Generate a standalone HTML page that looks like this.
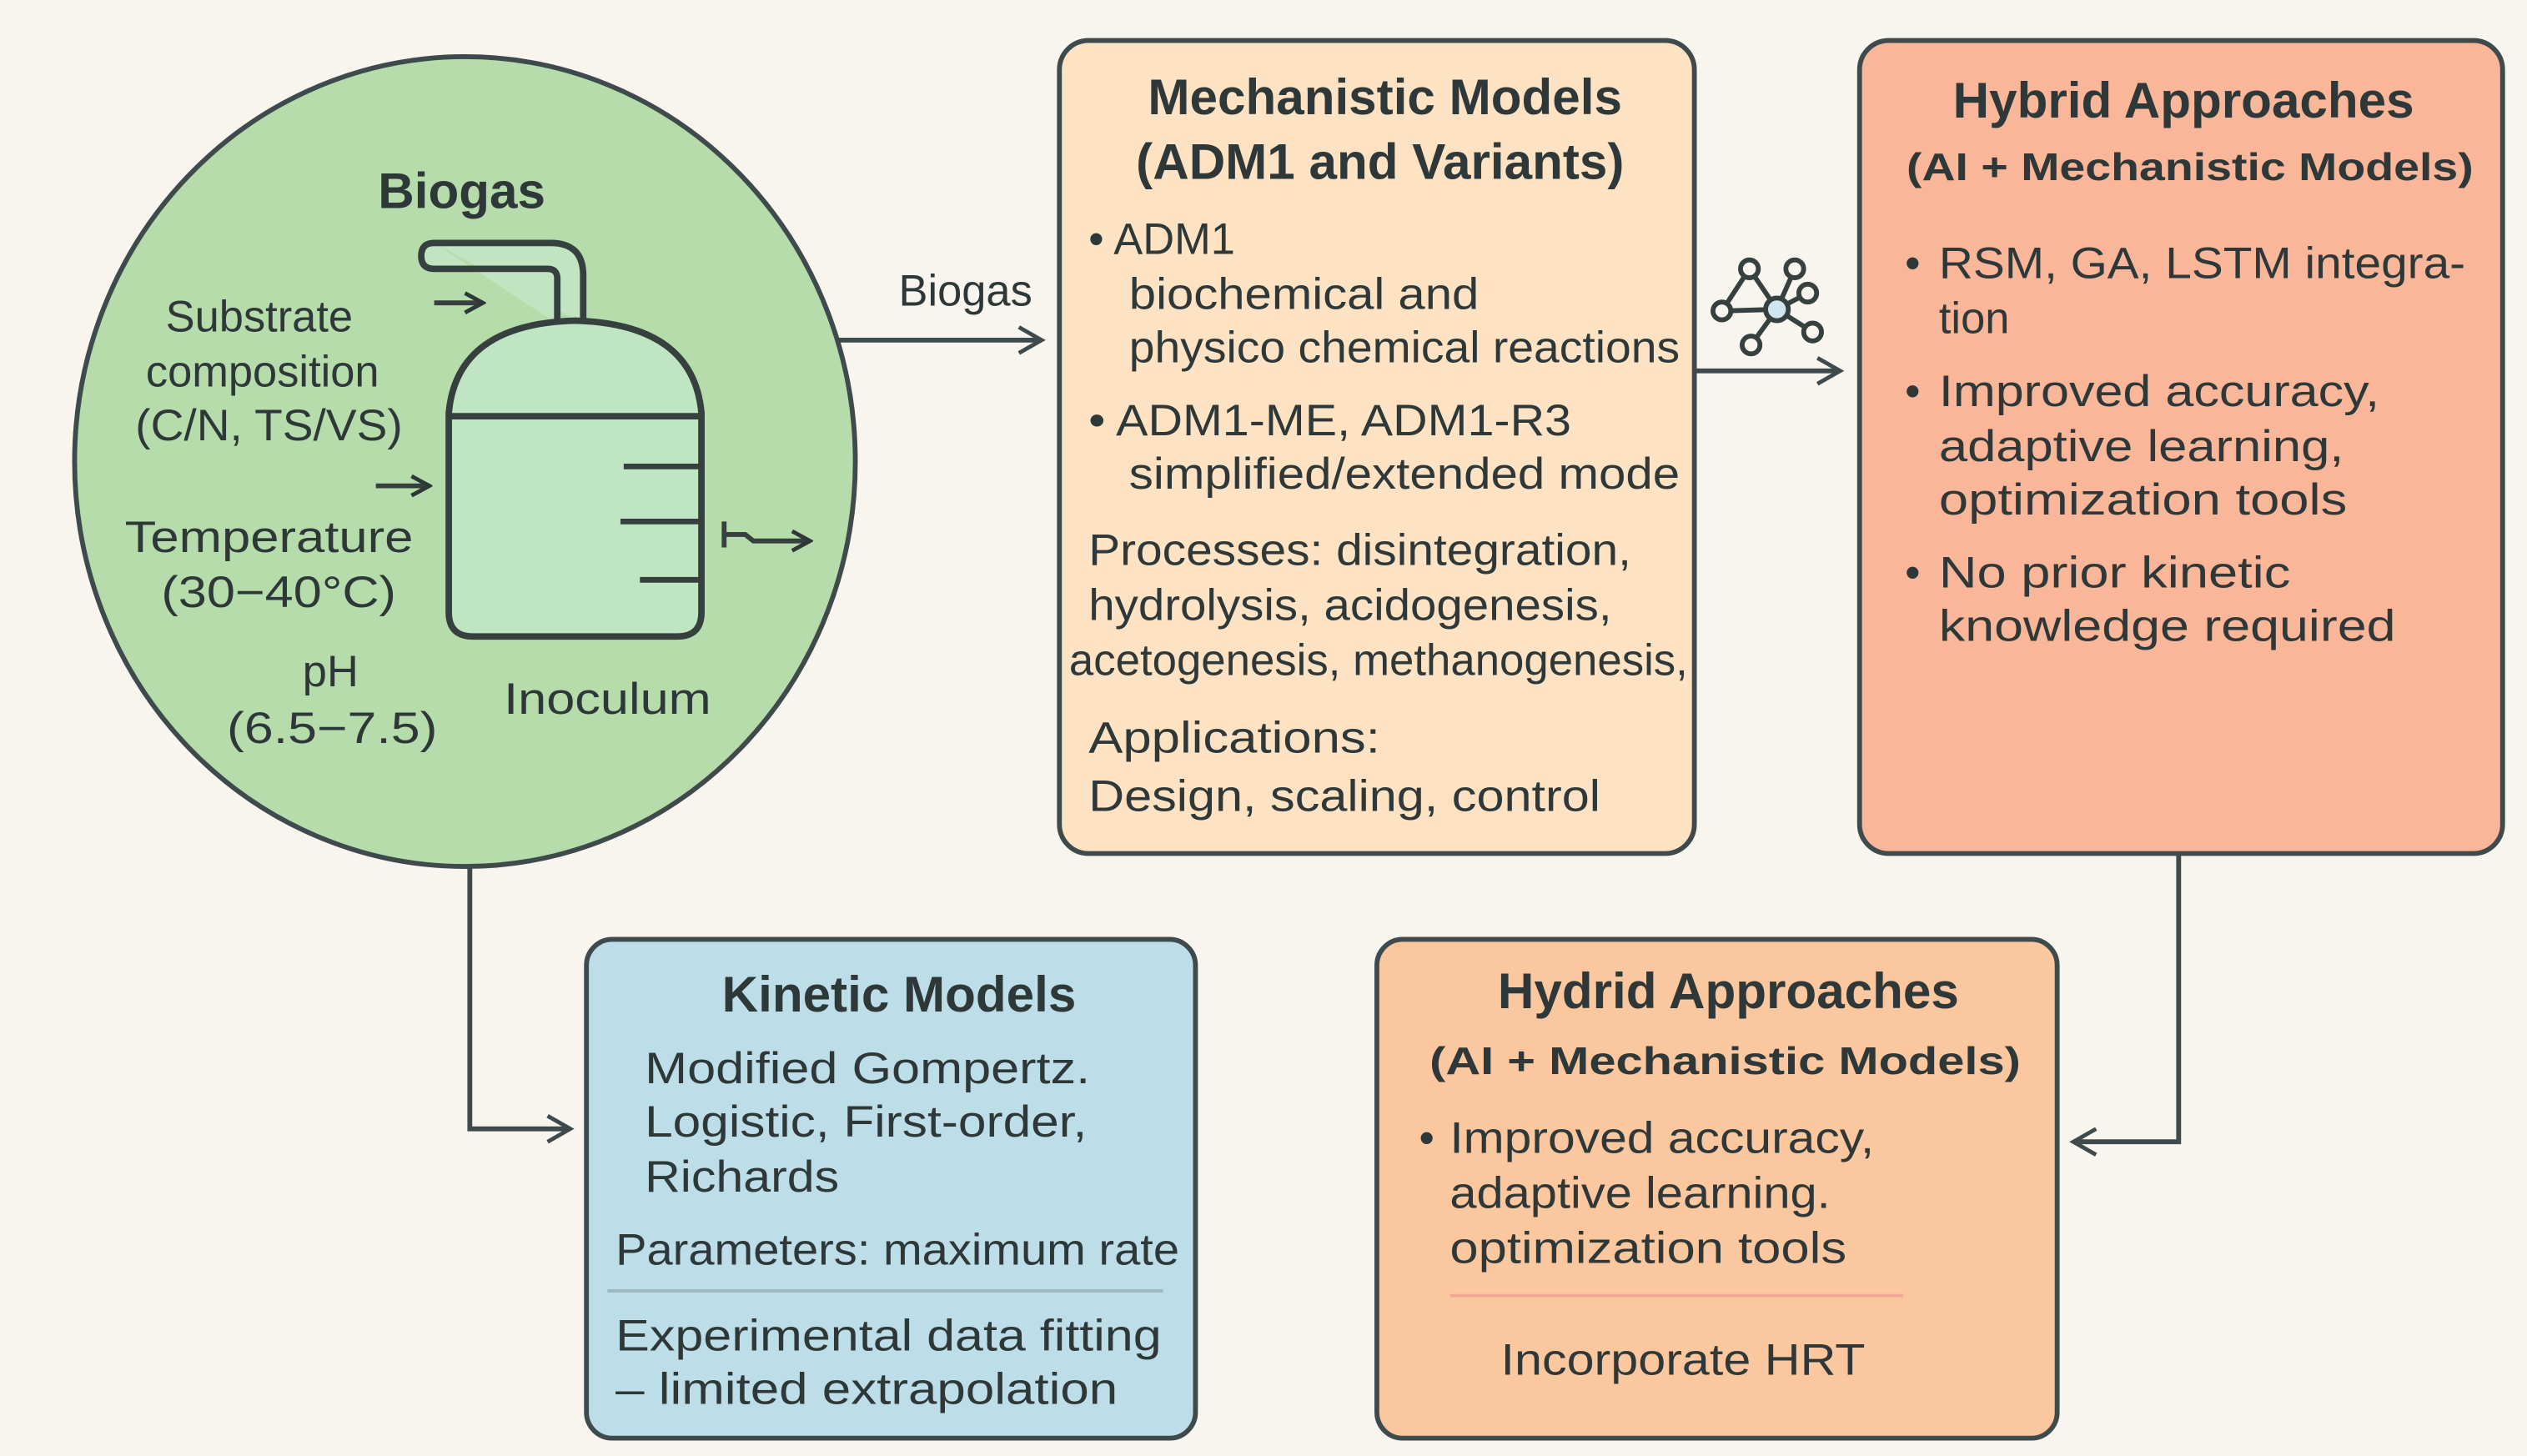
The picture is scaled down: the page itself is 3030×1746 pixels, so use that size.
<!DOCTYPE html>
<html><head><meta charset="utf-8"><style>
html,body{margin:0;padding:0;background:#f8f5ee;}
svg{display:block;}
text{font-family:"Liberation Sans",sans-serif;fill:#2f3838;}
.t{font-weight:bold;font-size:31px;}
.s{font-weight:bold;font-size:24px;}
.b{font-size:27px;font-weight:500;}
</style></head><body>
<svg width="3030" height="1746" viewBox="0 0 1560 899" xmlns="http://www.w3.org/2000/svg">
<rect width="1560" height="899" fill="#f8f5ee"/>
<defs>
<marker id="ar" viewBox="0 0 14 14" refX="12" refY="7" markerWidth="14" markerHeight="14" markerUnits="userSpaceOnUse" orient="auto">
<path d="M1,1 L12,7 L1,13" fill="none" stroke="#2f3838" stroke-width="2.5"/></marker>
<marker id="ar2" viewBox="0 0 20 20" refX="17" refY="10" markerWidth="20" markerHeight="20" markerUnits="userSpaceOnUse" orient="auto">
<path d="M3,2 L17,10 L3,18" fill="none" stroke="#3f4a4d" stroke-width="2.5"/></marker>
</defs>
<g stroke="#3f4a4d" stroke-width="3" fill="none">
<path d="M515,210 H643" marker-end="url(#ar2)"/>
<path d="M1046,229 H1136" marker-end="url(#ar2)"/>
<path d="M290,530 V697 H352" marker-end="url(#ar2)"/>
<path d="M1345,527 V705 H1280" marker-end="url(#ar2)"/>
</g>
<text x="596" y="180" class="b" text-anchor="middle" dominant-baseline="central" fill="#4a5354">Biogas</text>
<ellipse cx="287" cy="285" rx="241" ry="250" fill="#b5dcaa" stroke="#3f4a4d" stroke-width="3"/>
<text x="285" y="118" class="t" text-anchor="middle" dominant-baseline="central">Biogas</text>
<text x="160" y="196" text-anchor="middle" dominant-baseline="central" class="b">Substrate</text>
<text x="162" y="230" text-anchor="middle" dominant-baseline="central" class="b">composition</text>
<text x="166" y="263" text-anchor="middle" dominant-baseline="central" class="b" textLength="165" lengthAdjust="spacingAndGlyphs">(C/N, TS/VS)</text>
<text x="166" y="332" text-anchor="middle" dominant-baseline="central" class="b" textLength="178" lengthAdjust="spacingAndGlyphs">Temperature</text>
<text x="172" y="366" text-anchor="middle" dominant-baseline="central" class="b" textLength="145" lengthAdjust="spacingAndGlyphs">(30−40°C)</text>
<text x="204" y="415" text-anchor="middle" dominant-baseline="central" class="b">pH</text>
<text x="205" y="450" text-anchor="middle" dominant-baseline="central" class="b" textLength="130" lengthAdjust="spacingAndGlyphs">(6.5−7.5)</text>
<text x="375" y="432" text-anchor="middle" dominant-baseline="central" class="b" textLength="128" lengthAdjust="spacingAndGlyphs">Inoculum</text>
<g stroke="#36403f" stroke-width="4" fill="none">
<path d="M268,150 H340 Q360,150 360,170 V200 M268,150 Q260,150 260,158 Q260,166 268,166 H338 Q344,166 344,172 V200" fill="#c0e5c0"/>
<path d="M277,255 Q282,200 355,198 Q428,200 433,255 V378 Q433,393 418,393 H292 Q277,393 277,378 Z" fill="#bfe5c2"/>
<path d="M277,257 H433"/>
<path d="M385,288 H433 M383,322 H433 M395,358 H433" stroke-width="3.5"/>
<path d="M268,187 H298" stroke-width="3" marker-end="url(#ar)"/>
<path d="M232,300 H265" stroke-width="3" marker-end="url(#ar)"/>
<path d="M447,322 V338 M447,330 H460 L465,334 H500" stroke-width="3" marker-end="url(#ar)"/>
</g>
<rect x="654" y="25" width="392" height="502" rx="18" fill="#fde3c4" stroke="#3f4a4d" stroke-width="3"/>
<text x="855" y="60" class="t" text-anchor="middle" dominant-baseline="central">Mechanistic Models</text>
<text x="852" y="100" class="t" text-anchor="middle" dominant-baseline="central">(ADM1 and Variants)</text>
<g dominant-baseline="central">
<text x="672" y="148" class="b">• ADM1</text>
<text x="697" y="182" class="b" textLength="216" lengthAdjust="spacingAndGlyphs">biochemical and</text>
<text x="697" y="215" class="b" textLength="340" lengthAdjust="spacingAndGlyphs">physico chemical reactions</text>
<text x="672" y="260" class="b" textLength="298" lengthAdjust="spacingAndGlyphs">• ADM1-ME, ADM1-R3</text>
<text x="697" y="293" class="b" textLength="340" lengthAdjust="spacingAndGlyphs">simplified/extended mode</text>
<text x="672" y="340" class="b" textLength="335" lengthAdjust="spacingAndGlyphs">Processes: disintegration,</text>
<text x="672" y="374" class="b" textLength="323" lengthAdjust="spacingAndGlyphs">hydrolysis, acidogenesis,</text>
<text x="660" y="408" class="b" textLength="382" lengthAdjust="spacingAndGlyphs">acetogenesis, methanogenesis,</text>
<text x="672" y="456" class="b" textLength="180" lengthAdjust="spacingAndGlyphs">Applications:</text>
<text x="672" y="492" class="b" textLength="316" lengthAdjust="spacingAndGlyphs">Design, scaling, control</text>
</g>
<g stroke="#36403f" stroke-width="3" fill="#f8f5ee">
<path d="M1080,166 L1063,192 L1097,191 L1080,166 M1097,191 L1108,166 M1097,191 L1116,181 M1097,191 L1119,205 M1097,191 L1081,213" fill="none"/>
<circle cx="1080" cy="166" r="5.5"/><circle cx="1108" cy="166" r="5.5"/><circle cx="1116" cy="181" r="5.5"/>
<circle cx="1063" cy="192" r="5.5"/><circle cx="1119" cy="205" r="5.5"/><circle cx="1081" cy="213" r="5.5"/>
<circle cx="1097" cy="191" r="7" fill="#cfe6ee"/>
</g>
<rect x="1148" y="25" width="397" height="502" rx="18" fill="#f9b698" stroke="#3f4a4d" stroke-width="3"/>
<text x="1348" y="62" class="t" text-anchor="middle" dominant-baseline="central">Hybrid Approaches</text>
<text x="1352" y="103" class="s" text-anchor="middle" dominant-baseline="central" textLength="350" lengthAdjust="spacingAndGlyphs">(AI + Mechanistic Models)</text>
<g dominant-baseline="central">
<text x="1176" y="163" class="b">•</text><text x="1197" y="163" class="b" textLength="325" lengthAdjust="spacingAndGlyphs">RSM, GA, LSTM integra-</text>
<text x="1197" y="197" class="b">tion</text>
<text x="1176" y="242" class="b">•</text><text x="1197" y="242" class="b" textLength="272" lengthAdjust="spacingAndGlyphs">Improved accuracy,</text>
<text x="1197" y="276" class="b" textLength="250" lengthAdjust="spacingAndGlyphs">adaptive learning,</text>
<text x="1197" y="309" class="b" textLength="252" lengthAdjust="spacingAndGlyphs">optimization tools</text>
<text x="1176" y="354" class="b">•</text><text x="1197" y="354" class="b" textLength="217" lengthAdjust="spacingAndGlyphs">No prior kinetic</text>
<text x="1197" y="387" class="b" textLength="282" lengthAdjust="spacingAndGlyphs">knowledge required</text>
</g>
<rect x="362" y="580" width="376" height="308" rx="16" fill="#bddee9" stroke="#3f4a4d" stroke-width="3"/>
<text x="555" y="614" class="t" text-anchor="middle" dominant-baseline="central">Kinetic Models</text>
<g dominant-baseline="central">
<text x="398" y="660" class="b" textLength="275" lengthAdjust="spacingAndGlyphs">Modified Gompertz.</text>
<text x="398" y="693" class="b" textLength="273" lengthAdjust="spacingAndGlyphs">Logistic, First-order,</text>
<text x="398" y="727" class="b" textLength="120" lengthAdjust="spacingAndGlyphs">Richards</text>
<text x="380" y="772" class="b" textLength="348" lengthAdjust="spacingAndGlyphs">Parameters: maximum rate</text>
<text x="380" y="825" class="b" textLength="337" lengthAdjust="spacingAndGlyphs">Experimental data fitting</text>
<text x="380" y="858" class="b" textLength="310" lengthAdjust="spacingAndGlyphs">– limited extrapolation</text>
</g>
<line x1="375" y1="797" x2="718" y2="797" stroke="#9fb7be" stroke-width="2"/>
<rect x="850" y="580" width="420" height="308" rx="16" fill="#fbc79f" stroke="#3f4a4d" stroke-width="3"/>
<text x="1067" y="612" class="t" text-anchor="middle" dominant-baseline="central">Hydrid Approaches</text>
<text x="1065" y="655" class="s" text-anchor="middle" dominant-baseline="central" textLength="365" lengthAdjust="spacingAndGlyphs">(AI + Mechanistic Models)</text>
<g dominant-baseline="central">
<text x="876" y="703" class="b">•</text><text x="895" y="703" class="b" textLength="262" lengthAdjust="spacingAndGlyphs">Improved accuracy,</text>
<text x="895" y="737" class="b" textLength="235" lengthAdjust="spacingAndGlyphs">adaptive learning.</text>
<text x="895" y="771" class="b" textLength="245" lengthAdjust="spacingAndGlyphs">optimization tools</text>
<text x="1039" y="840" class="b" text-anchor="middle" textLength="225" lengthAdjust="spacingAndGlyphs">Incorporate HRT</text>
</g>
<line x1="895" y1="800" x2="1175" y2="800" stroke="#f0a995" stroke-width="2"/>
</svg>
</body></html>
